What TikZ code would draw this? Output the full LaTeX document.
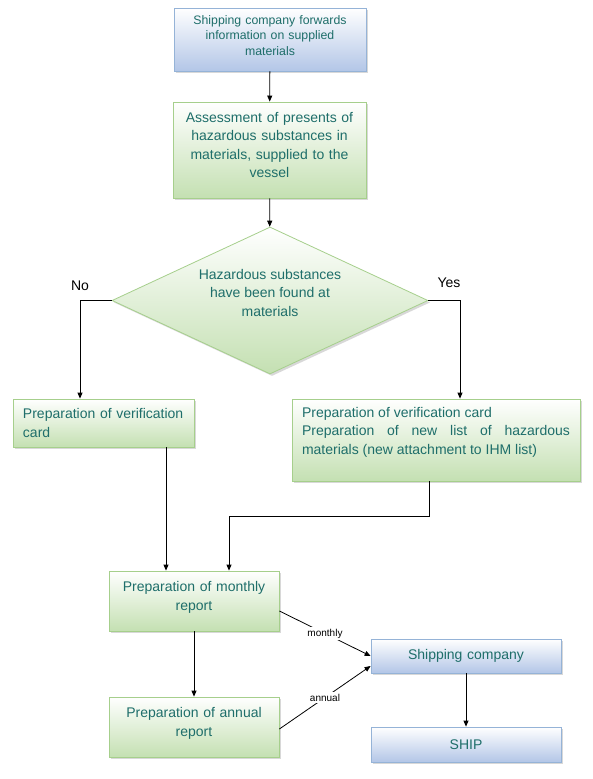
\documentclass[tikz,border=0pt]{standalone}
\usepackage{fontspec}
\setmainfont{Liberation Sans}
\usetikzlibrary{arrows.meta,positioning,shapes.geometric,shadows}
\definecolor{flowteal}{HTML}{1E6E6A}
\definecolor{flowgreen}{HTML}{C4E0B2}
\definecolor{flowgreenline}{HTML}{A6CF8C}
\definecolor{flowblue}{HTML}{B3C6E7}
\definecolor{flowblueline}{HTML}{95B3D7}

\begin{document}
\begin{tikzpicture}[
  x=1pt,y=-1pt,
  font=\fontsize{14}{18.5}\selectfont,
  box/.style={draw,line width=0.8pt,align=center,text=flowteal,inner xsep=10pt,
              drop shadow={shadow xshift=2pt,shadow yshift=-2pt,fill=black!30}},
  greenbox/.style={box,draw=flowgreenline,top color=white,bottom color=flowgreen},
  bluebox/.style={box,draw=flowblueline,top color=white,bottom color=flowblue},
  arrow/.style={-{Triangle[length=6pt,width=5pt]},line width=0.8pt},
  tag/.style={font=\fontsize{10}{12}\selectfont,fill=white,inner sep=1.5pt}
]
  \useasboundingbox[fill=white] (0,0) rectangle (593,779);

  \node[bluebox,text width=172pt,minimum height=63pt,font=\fontsize{12.3}{15.5}\selectfont]
    (forward) at (270,39.5) {Shipping company forwards\\information on supplied\\materials\\[-7.5pt]\mbox{}};
  \node[greenbox,text width=173pt,minimum height=96pt] (assess) at (269.5,150)
    {Assessment of presents of\\hazardous substances in\\materials, supplied to the\\vessel\\[-8.5pt]\mbox{}};
  \node[greenbox,diamond,aspect=2.15,inner sep=0pt,minimum width=316pt,minimum height=147pt]
    (found) at (270,300.5) {Hazardous substances\\have been found at\\materials\\[-2.5pt]\mbox{}};
  \node[greenbox,align=left,text width=161pt,minimum height=48pt] (plaincard) at (103.5,423)
    {Preparation of verification\\card};
  \node[greenbox,align=justify,text width=268pt,minimum height=82pt] (newlist) at (436,440)
    {Preparation of verification card\\Preparation of new list of hazardous \mbox{materials} (new attachment to IHM list)\\\mbox{}};
  \node[greenbox,text width=150pt,minimum height=60pt] (monthly) at (194,601)
    {Preparation of monthly\\report\\[-8.5pt]\mbox{}};
  \node[greenbox,text width=150pt,minimum height=60pt] (annual) at (194,727)
    {Preparation of annual\\report\\[-8.5pt]\mbox{}};
  \node[bluebox,text width=170pt,minimum height=34pt] (shipco) at (466,656) {Shipping company};
  \node[bluebox,text width=170pt,minimum height=35pt] (ship) at (466,744.5) {SHIP};

  \draw[arrow] (forward) -- (assess);
  \draw[arrow] (assess) -- (found);
  \draw[arrow] (found.west) -| node[above=6pt]{No} ([xshift=-23.5pt]plaincard.north);
  \draw[arrow] (found.east) -| node[above=9pt,xshift=-11pt]{Yes} ([xshift=24pt]newlist.north);
  \draw[arrow] ([xshift=62.5pt]plaincard.south) -- ([xshift=62.5pt]plaincard.south |- monthly.north);
  \draw[arrow] ([xshift=-7pt]newlist.south) -- ++(0,35) -| ([xshift=35pt]monthly.north);
  \draw[arrow] (monthly) -- (annual);
  \draw[arrow] ([yshift=-10pt]monthly.east) -- node[tag]{monthly} (shipco.west);
  \draw[arrow] ([yshift=-2pt]annual.east) -- node[tag]{annual} ([yshift=-10pt]shipco.west);
  \draw[arrow] (shipco) -- (ship);
\end{tikzpicture}
\end{document}
